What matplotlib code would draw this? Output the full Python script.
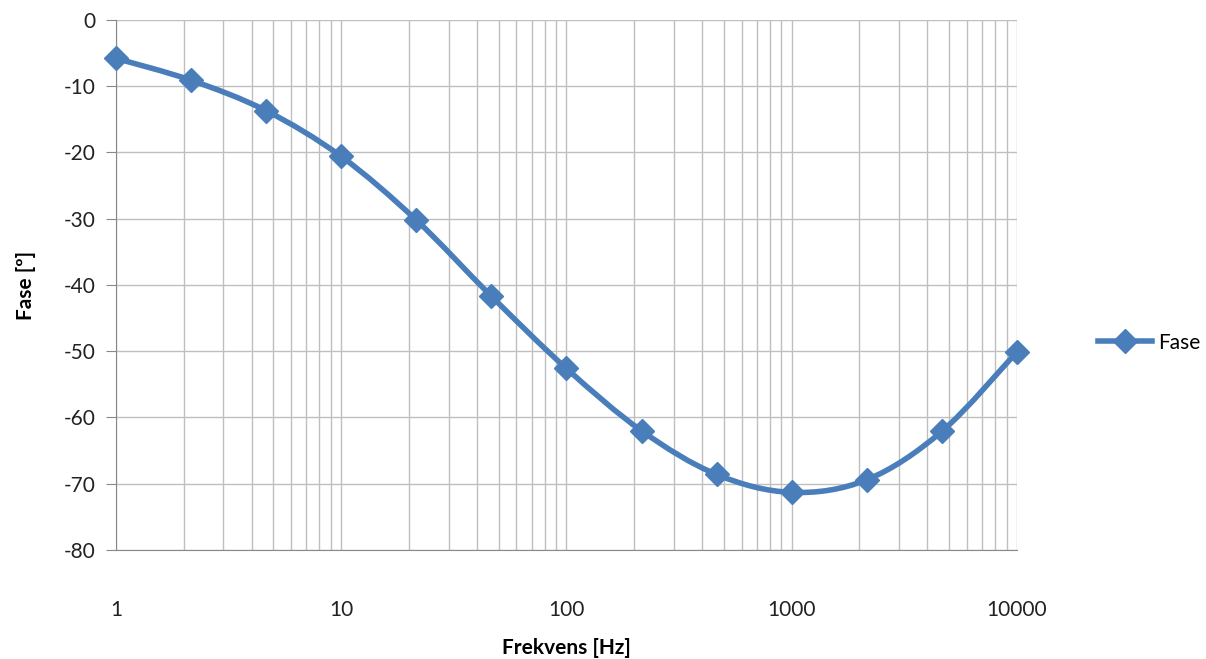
import numpy as np
import matplotlib
matplotlib.use("Agg")
import matplotlib.pyplot as plt
from matplotlib.path import Path
from matplotlib.patches import PathPatch
from matplotlib.lines import Line2D
import matplotlib.ticker as ticker

# data (3 points per decade)
freq = [1, 2.154, 4.642, 10, 21.54, 46.42, 100, 215.4, 464.2, 1000, 2154, 4642, 10000]
fase = [-5.8, -9.1, -13.7, -20.6, -30.2, -41.7, -52.6, -62.0, -68.6, -71.3, -69.4, -62.1, -50.1]

blue = "#4A7EBB"
grid_col = "#BFBFBF"
plt.rcParams['font.family'] = ['Lato', 'DejaVu Sans']
plt.rcParams['axes.unicode_minus'] = False

fig = plt.figure(figsize=(12.06, 6.59), dpi=100)
ax = fig.add_axes([0.0962, 0.1654, 0.747, 0.8043])
ax.set_xscale('log')
ax.set_xlim(1, 10000)
ax.set_ylim(-80, 0)

# smoothed line like Excel, bezier controls computed in log-x space
lx = np.log10(freq)
y = np.array(fase)
verts = [(freq[0], y[0])]
codes = [Path.MOVETO]
n = len(lx)
for i in range(n - 1):
    p0 = (lx[i - 1], y[i - 1]) if i > 0 else (lx[i], y[i])
    p1 = (lx[i], y[i])
    p2 = (lx[i + 1], y[i + 1])
    p3 = (lx[i + 2], y[i + 2]) if i + 2 < n else p2
    c1 = (p1[0] + (p2[0] - p0[0]) / 6, p1[1] + (p2[1] - p0[1]) / 6)
    c2 = (p2[0] - (p3[0] - p1[0]) / 6, p2[1] - (p3[1] - p1[1]) / 6)
    for cx, cy in (c1, c2, p2):
        verts.append((10 ** cx, cy))
        codes.append(Path.CURVE4)
ax.add_patch(PathPatch(Path(verts, codes), facecolor='none', edgecolor=blue,
                       lw=4, capstyle='round', joinstyle='round', zorder=3,
                       clip_on=False))
ax.plot(freq, fase, ls='none', marker='D', ms=12, color=blue, zorder=4, clip_on=False)

ax.set_yticks(np.arange(-80, 1, 10))
ax.xaxis.set_major_locator(ticker.LogLocator(base=10, numticks=10))
ax.xaxis.set_minor_locator(ticker.LogLocator(base=10, subs=np.arange(2, 10), numticks=50))
ax.xaxis.set_major_formatter(ticker.FuncFormatter(lambda v, p: "%d" % v))
ax.xaxis.set_minor_formatter(ticker.NullFormatter())
ax.grid(True, which='both', axis='x', color=grid_col, lw=1)
ax.grid(True, which='major', axis='y', color=grid_col, lw=1)
ax.set_axisbelow(True)

for s in ['top', 'right']:
    ax.spines[s].set_visible(False)
ax.spines['left'].set_color('#888888')
ax.spines['bottom'].set_color('#888888')
ax.tick_params(axis='y', length=7, color='#888888', labelsize=15, pad=8, labelcolor='#222222')
ax.tick_params(axis='x', which='both', length=0, labelsize=15, pad=36, labelcolor='#222222')

ax.set_xlabel("Frekvens [Hz]", fontsize=15, fontweight='bold', labelpad=13)
ax.set_ylabel("Fase [º]", fontsize=15, fontweight='bold', labelpad=20)

h = Line2D([], [], color=blue, lw=4, marker='D', ms=12)
fig.legend([h], ["Fase"], loc='center left', bbox_to_anchor=(0.895, 0.48),
           frameon=False, fontsize=15, handlelength=2.6, handletextpad=0.3)

fig.savefig("out.png", dpi=100)
